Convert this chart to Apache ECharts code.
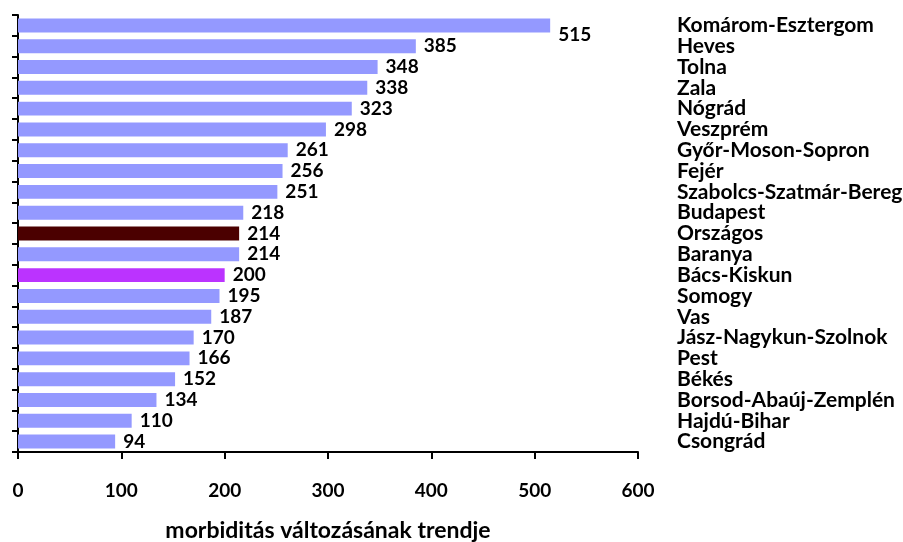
<!DOCTYPE html>
<html><head><meta charset="utf-8">
<script src="https://cdn.jsdelivr.net/npm/echarts@6/dist/echarts.min.js"></script>
<style>html,body{margin:0;padding:0;background:#fff}#c{width:903px;height:542px}</style>
</head><body><div id="c"></div>
<script>
var categories = ["Komárom-Esztergom","Heves","Tolna","Zala","Nógrád","Veszprém","Győr-Moson-Sopron","Fejér","Szabolcs-Szatmár-Bereg","Budapest","Országos","Baranya","Bács-Kiskun","Somogy","Vas","Jász-Nagykun-Szolnok","Pest","Békés","Borsod-Abaúj-Zemplén","Hajdú-Bihar","Csongrád"];
var values = [515,385,348,338,323,298,261,256,251,218,214,214,200,195,187,170,166,152,134,110,94];
var xTicks = [0,100,200,300,400,500,600];
var axisTitle = "morbiditás változásának trendje";
var highlight = {"Országos":"#4B0000","Bács-Kiskun":"#BB33FF"};

var FONT = 'Lato';
var data = values.map(function(v,i){
  var d = {value:v, itemStyle:{color: highlight[categories[i]] || '#9499FF'}};
  if (i === 0) d.label = {offset:[0,9]};
  return d;
});
var chart = echarts.init(document.getElementById('c'));
chart.setOption({
  animation:false,
  grid:{left:18,right:265,top:15,bottom:90,containLabel:false,outerBoundsMode:'none'},
  xAxis:{type:'value',min:xTicks[0],max:xTicks[xTicks.length-1],interval:100,
    name:axisTitle,nameLocation:'middle',nameGap:67,
    nameTextStyle:{fontFamily:FONT,fontWeight:'bold',fontSize:23,color:'#000'},
    axisLine:{show:true,lineStyle:{color:'#000',width:2}},
    axisTick:{show:true,length:7,lineStyle:{color:'#000',width:2}},
    axisLabel:{margin:29,fontFamily:FONT,fontWeight:'bold',fontSize:19,color:'#000'},
    splitLine:{show:false}},
  yAxis:[{type:'category',data:categories,inverse:true,position:'left',
    axisLine:{show:true,lineStyle:{color:'#000',width:2}},
    axisTick:{show:true,length:6,inside:false,lineStyle:{color:'#000',width:2}},
    axisLabel:{show:false}},
   {type:'category',data:categories,inverse:true,position:'right',
    axisLine:{show:false},axisTick:{show:false},
    axisLabel:{show:true,interval:0,align:'left',margin:39,fontFamily:FONT,fontWeight:'bold',fontSize:21,color:'#000'}}],
  series:[{type:'bar',data:data,yAxisIndex:0,barCategoryGap:'33%',
    label:{show:true,position:'right',distance:8,fontFamily:FONT,fontWeight:'bold',fontSize:19,color:'#000'}}]
});
</script></body></html>
